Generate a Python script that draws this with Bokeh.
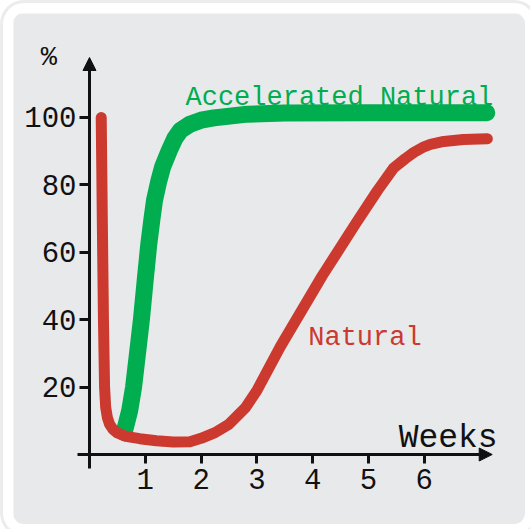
from bokeh.plotting import figure
from bokeh.models import Range1d, FixedTicker, Arrow, NormalHead
from bokeh.core.properties import value
from bokeh.embed import file_html
from bokeh.resources import INLINE

# ---- data ----
natural_x = [0.21, 0.22, 0.23, 0.25, 0.27, 0.29, 0.32, 0.36, 0.42, 0.5, 0.65, 0.9, 1.2, 1.5, 1.8,
             2.0, 2.25, 2.5, 2.8, 3.0, 3.42, 4.17, 4.77, 5.16, 5.45, 5.66, 5.81, 5.97, 6.11, 6.35,
             6.7, 7.13]
natural_y = [100, 85, 69, 40, 20, 14, 11, 9, 7.5, 6.4, 5.4, 4.7, 4.1, 3.7, 3.8,
             4.8, 6.5, 9, 14, 19, 32, 53, 68.5, 78.3, 85, 87.8, 89.6, 91.1, 92.0, 92.9,
             93.5, 93.7]

accel_x = [0.62, 0.72, 0.79, 0.86, 0.93, 1.0, 1.06, 1.12, 1.165, 1.24, 1.31, 1.43, 1.53, 1.63,
           1.8, 2.0, 2.23, 2.83, 3.5, 5.0, 7.12]
accel_y = [6.5, 13, 20, 30, 40, 52, 62, 70, 75.4, 81, 85.3, 90.2, 93.8, 96.2,
           98, 99.2, 99.9, 101.0, 101.3, 101.4, 101.4]

x_ticks = [1, 2, 3, 4, 5, 6]
y_ticks = [20, 40, 60, 80, 100]

series_labels = ["Accelerated Natural", "Natural"]
x_label = "Weeks"
y_label = "%"

GREEN = "#00ad4f"
RED = "#cc3a2f"
BG = "#e8e9eb"
MONO = "Liberation Mono"

p = figure(width=512, height=511, output_backend="svg", toolbar_location=None,
           x_range=Range1d(-1.362, 7.8136), y_range=Range1d(-20.77, 130.86),
           min_border=0, background_fill_color=BG, border_fill_color=BG,
           outline_line_color=None)
p.styles = {"margin-left": "13px", "margin-top": "13px",
            "border-radius": "11px", "overflow": "hidden",
            "box-shadow": "0 0 0 10px #ffffff, 0 0 0 13px #ececec"}
p.grid.visible = False

for ax in (p.xaxis[0], p.yaxis[0]):
    ax.fixed_location = 0
    ax.axis_line_color = None
    ax.minor_tick_line_color = None
    ax.major_tick_in = 0
    ax.major_tick_line_width = 3
    ax.major_tick_line_color = "#111111"
    ax.major_label_text_font = MONO
    ax.major_label_text_font_size = "29px"
    ax.major_label_text_color = "#111111"

p.xaxis[0].ticker = FixedTicker(ticks=x_ticks)
p.xaxis[0].major_tick_out = 9
p.xaxis[0].major_label_standoff = 5
p.yaxis[0].ticker = FixedTicker(ticks=y_ticks)
p.yaxis[0].major_tick_out = 10
p.yaxis[0].major_label_standoff = 3

# axis lines with arrow heads
p.add_layout(Arrow(x_start=0, y_start=-4.15, x_end=0, y_end=117.8, line_width=3,
                   line_color="#111111",
                   end=NormalHead(size=13, fill_color="#111111", line_color="#111111", line_width=1)))
p.add_layout(Arrow(x_start=-0.215, y_start=0, x_end=7.217, y_end=0, line_width=3,
                   line_color="#111111",
                   end=NormalHead(size=13, fill_color="#111111", line_color="#111111", line_width=1)))

p.line(accel_x, accel_y, line_color=GREEN, line_width=17, line_cap="round", line_join="round")
p.line(natural_x, natural_y, line_color=RED, line_width=11, line_cap="round", line_join="round")

# labels
p.text(x=[1.72], y=[105.8], text=[series_labels[0]], text_font=value(MONO),
       text_font_size="27px", text_color=GREEN, text_align="left", text_baseline="alphabetic")
p.text(x=[3.92], y=[34.5], text=[series_labels[1]], text_font=value(MONO),
       text_font_size="27px", text_color=RED, text_align="left", text_baseline="alphabetic")
p.text(x=[5.54], y=[4.84], text=[x_label], text_font=value(MONO),
       text_font_size="33px", text_color="#111111", text_align="left", text_baseline="alphabetic")
p.text(x=[-0.73], y=[117.7], text=[y_label], text_font=value(MONO),
       text_font_size="27px", text_color="#111111", text_align="center", text_baseline="middle")

open("out.html", "w").write(file_html(p, INLINE))
